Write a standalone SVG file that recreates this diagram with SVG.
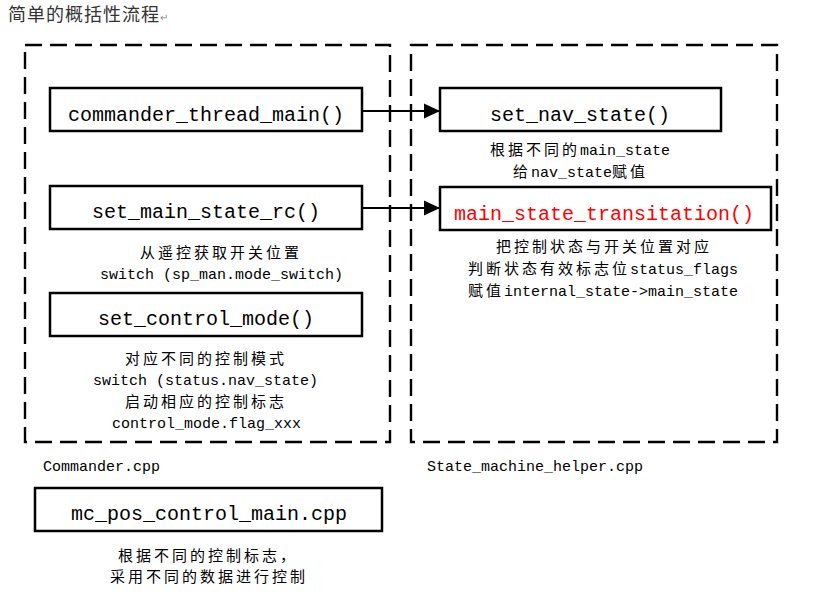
<svg xmlns="http://www.w3.org/2000/svg" width="832" height="593" viewBox="0 0 832 593">
<style>
.bg{fill:#ffffff}
.frame{fill:none;stroke:#000;stroke-width:2.4;stroke-dasharray:17 8}
.box{fill:#fff;stroke:#000;stroke-width:2.5}
.bt{font-family:"Liberation Mono","Noto Sans CJK SC",monospace;font-size:20px;fill:#000;text-anchor:middle}
.red{fill:#ff0000}
.t{font-family:"Liberation Mono","Noto Sans CJK SC",monospace;font-size:15px;fill:#000}
.cj{font-family:"Noto Sans CJK SC",sans-serif;font-size:15px;letter-spacing:3px}
.title{font-family:"Noto Sans CJK SC",sans-serif;font-size:18px;fill:#333;letter-spacing:1px}
.conn{stroke:#000;stroke-width:2;fill:none}
</style>
<defs>
<marker id="arr" markerUnits="userSpaceOnUse" markerWidth="16" markerHeight="16" refX="16" refY="8" orient="auto">
<path d="M0,0.5 L16,8 L0,15.5 z" fill="#000"/>
</marker>
</defs>
<rect class="bg" x="0" y="0" width="832" height="593"/>
<g id="title">
<text class="title" x="8" y="21">简单的概括性流程<tspan style="font-size:10px;fill:#888;letter-spacing:0">↵</tspan></text>
</g>
<g id="commander-frame">
<rect class="frame" x="25" y="45" width="365" height="397"/>
<text class="t" x="43" y="471">Commander.cpp</text>
</g>
<g id="helper-frame">
<rect class="frame" x="411" y="45" width="366" height="397"/>
<text class="t" x="427" y="471">State_machine_helper.cpp</text>
</g>
<g id="commander_thread_main">
<rect class="box" x="50" y="88" width="312" height="43"/>
<text class="bt" x="206" y="121">commander_thread_main()</text>
</g>
<g id="set_main_state_rc">
<rect class="box" x="50" y="186" width="312" height="43"/>
<text class="bt" x="206" y="218">set_main_state_rc()</text>
<text class="t" x="140" y="258"><tspan class="cj">从遥控获取开关位置</tspan></text>
<text class="t" x="100" y="279">switch (sp_man.mode_switch)</text>
</g>
<g id="set_control_mode">
<rect class="box" x="50" y="293" width="312" height="43"/>
<text class="bt" x="206" y="325">set_control_mode()</text>
<text class="t" x="125" y="364"><tspan class="cj">对应不同的控制模式</tspan></text>
<text class="t" x="93" y="385">switch (status.nav_state)</text>
<text class="t" x="125" y="407"><tspan class="cj">启动相应的控制标志</tspan></text>
<text class="t" x="112" y="428">control_mode.flag_xxx</text>
</g>
<g id="set_nav_state">
<rect class="box" x="440" y="88" width="281" height="43"/>
<text class="bt" x="580" y="121">set_nav_state()</text>
<text class="t" x="490" y="155"><tspan class="cj">根据不同的</tspan>main_state</text>
<text class="t" x="513" y="177"><tspan class="cj">给</tspan>nav_state<tspan class="cj">赋值</tspan></text>
</g>
<g id="main_state_transitation">
<rect class="box" x="440" y="187" width="331" height="43"/>
<text class="bt red" x="604" y="220">main_state_transitation()</text>
<text class="t red" x="496" y="252"><tspan class="cj">把控制状态与开关位置对应</tspan></text>
<text class="t" x="468" y="274"><tspan class="cj">判断状态有效标志位</tspan>status_flags</text>
<text class="t" x="468" y="296"><tspan class="cj">赋值</tspan>internal_state-&gt;main_state</text>
</g>
<g id="mc_pos_control_main">
<rect class="box" x="35" y="488" width="347" height="43"/>
<text class="bt" x="209" y="520">mc_pos_control_main.cpp</text>
<text class="t" x="118" y="561"><tspan class="cj">根据不同的控制标志，</tspan></text>
<text class="t" x="110" y="582"><tspan class="cj">采用不同的数据进行控制</tspan></text>
</g>
<g id="connectors">
<line class="conn" x1="362" y1="111" x2="440" y2="111" marker-end="url(#arr)"/>
<line class="conn" x1="362" y1="208" x2="440" y2="208" marker-end="url(#arr)"/>
</g>
</svg>
